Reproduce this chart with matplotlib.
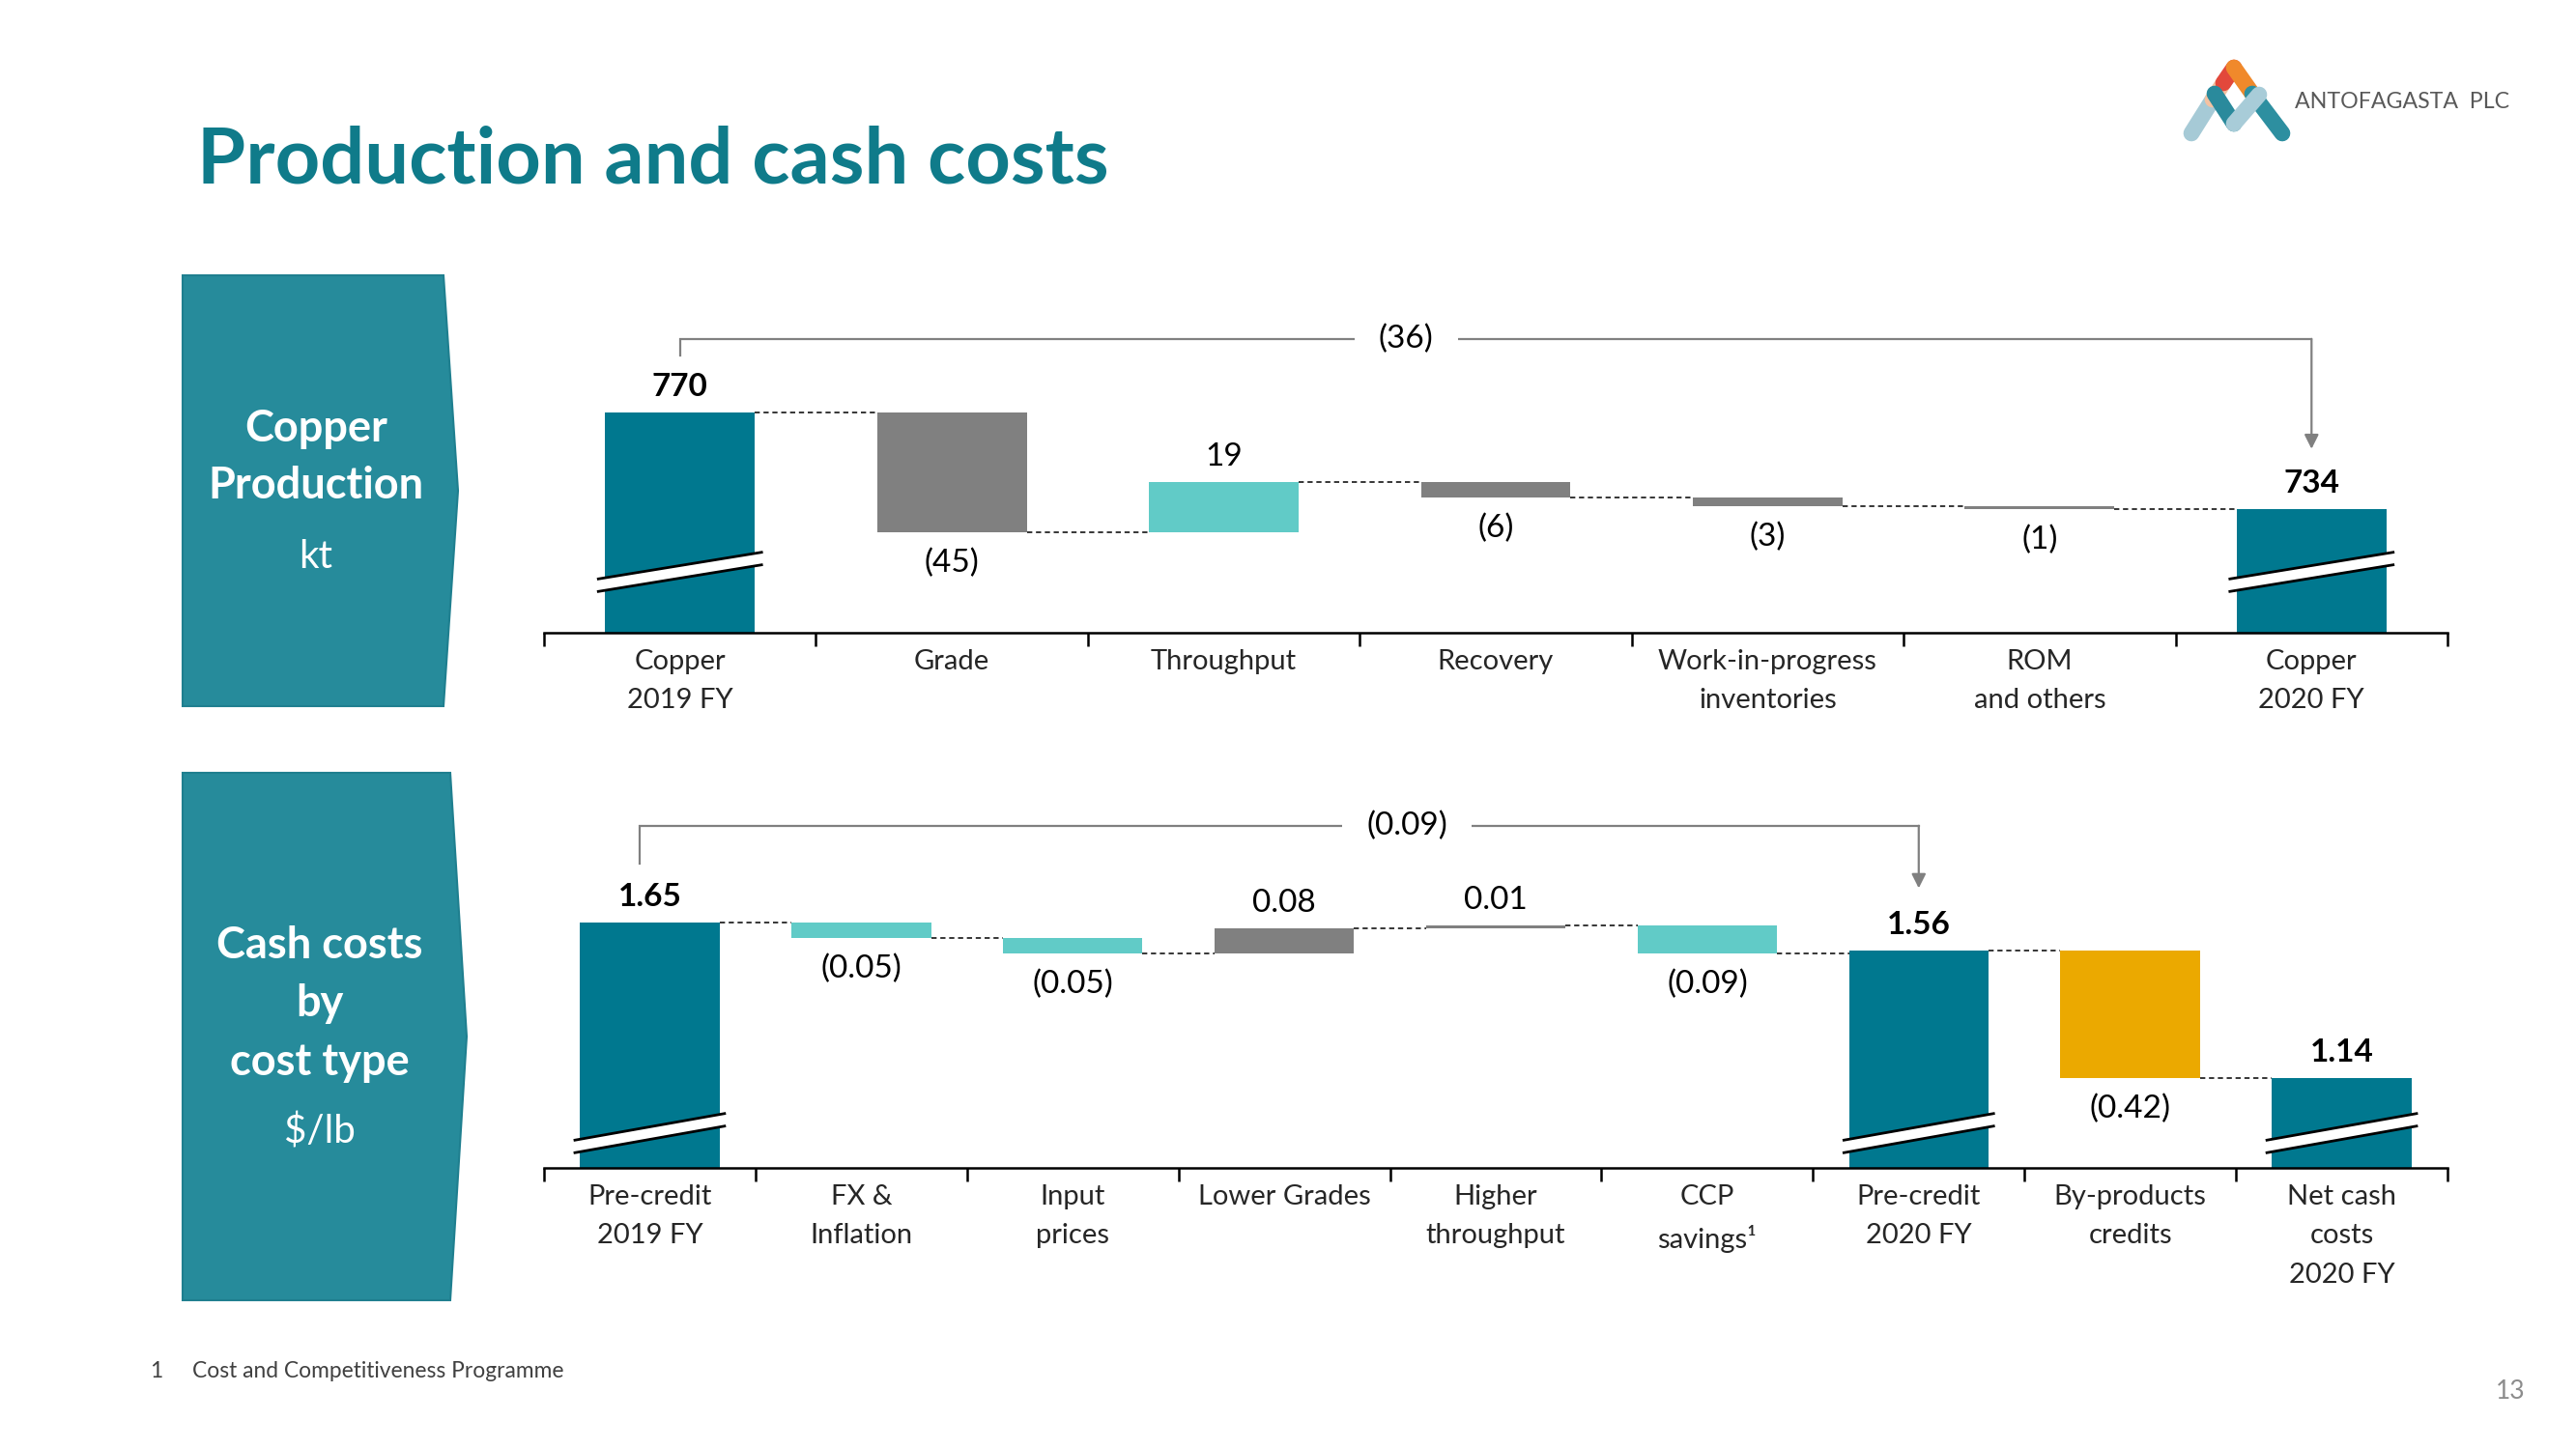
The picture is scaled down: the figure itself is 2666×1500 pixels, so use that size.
import matplotlib
matplotlib.use("Agg")
import matplotlib.pyplot as plt
from matplotlib.patches import Polygon

plt.rcParams["font.family"] = ["Lato", "DejaVu Sans"]

# ---- data -------------------------------------------------------------
prod_categories = ["Copper\n2019 FY", "Grade", "Throughput", "Recovery",
                   "Work-in-progress\ninventories", "ROM\nand others", "Copper\n2020 FY"]
prod_values = [770, -45, 19, -6, -3, -1, 734]
prod_kinds = ["total", "delta", "delta", "delta", "delta", "delta", "total"]
prod_change = -36

cost_categories = ["Pre-credit\n2019 FY", "FX &\nInflation", "Input\nprices", "Lower Grades",
                   "Higher\nthroughput", "CCP\nsavings\u00b9", "Pre-credit\n2020 FY",
                   "By-products\ncredits", "Net cash\ncosts\n2020 FY"]
cost_values = [1.65, -0.05, -0.05, 0.08, 0.01, -0.09, 1.56, -0.42, 1.14]
cost_kinds = ["total", "delta", "delta", "delta", "delta", "delta", "total", "delta", "total"]
cost_change = -0.09

# ---- styles -----------------------------------------------------------
W, H = 2666, 1500
TEAL = "#00788F"
GRAY = "#808080"
LIGHT = "#61CBC7"
GOLD = "#EBA900"
PANEL = "#268B9B"
TITLE = "#0F7B8A"

prod_colors = [TEAL, GRAY, LIGHT, GRAY, GRAY, GRAY, TEAL]
cost_colors = [TEAL, LIGHT, LIGHT, GRAY, GRAY, LIGHT, TEAL, GOLD, TEAL]


def fmt_int(v):
    return f"({abs(v):.0f})" if v < 0 else f"{v:.0f}"


def fmt_dec(v):
    return f"({abs(v):.2f})" if v < 0 else f"{v:.2f}"


def px_axes(left, top, right, bottom):
    return fig.add_axes([left / W, 1 - bottom / H, (right - left) / W, (bottom - top) / H])


def waterfall(ax, values, kinds, colors, labels, fmt, width, base, top, ax_h_px,
              break_px, bracket):
    n = len(values)
    upp = (top - base) / ax_h_px  # data units per pixel
    ax.set_xlim(-0.5, n - 0.5)
    ax.set_ylim(base, top)
    level = None
    for i, (v, k, c) in enumerate(zip(values, kinds, colors)):
        if k == "total":
            bottom, height, end = base, v - base, v
        else:
            bottom, height, end = min(level, level + v), abs(v), level + v
        ax.bar(i, height, bottom=bottom, width=width, color=c, zorder=2)
        if level is not None:
            ax.plot([i - 1 + width / 2, i - width / 2], [level, level], color="black",
                    lw=1.1, ls=(0, (3.5, 2.5)), zorder=1)
        if k == "total":
            ax.annotate(fmt(v), (i, v), xytext=(0, 19), textcoords="offset points",
                        ha="center", va="center", fontsize=24, fontweight="bold", color="black")
            # broken-axis mark
            yc = base + break_px * upp
            half_t = 6.5 * upp
            rise = 14 * upp
            x0, x1 = i - width / 2 - 0.03, i + width / 2 + 0.03
            poly = Polygon([(x0, yc - rise - half_t), (x1, yc + rise - half_t),
                            (x1, yc + rise + half_t), (x0, yc - rise + half_t)],
                           closed=True, fc="white", ec="none", zorder=3)
            ax.add_patch(poly)
            for s in (-1, 1):
                ax.plot([x0, x1], [yc - rise + s * half_t, yc + rise + s * half_t],
                        color="black", lw=2.0, zorder=4, solid_capstyle="butt")
        else:
            off = -23 if v < 0 else 19
            ax.annotate(fmt(v), (i, level + v), xytext=(0, off), textcoords="offset points",
                        ha="center", va="center", fontsize=24, color="black")
        level = end

    # overall-change bracket
    i0, i1, y_br, y_start, y_tip, x_lab, text = bracket
    ax.plot([i0, i0, i1], [y_start, y_br, y_br], color=GRAY, lw=1.6, zorder=2,
            solid_joinstyle="miter")
    ax.annotate("", xy=(i1, y_tip), xytext=(i1, y_br),
                arrowprops=dict(arrowstyle="-|>", color=GRAY, lw=1.6, mutation_scale=22,
                                shrinkA=0, shrinkB=0))
    ax.text(x_lab, y_br, text, ha="center", va="center", fontsize=24, color="black",
            bbox=dict(boxstyle="square,pad=0.75", fc="white", ec="none"), zorder=5)

    # axis styling
    for sp in ("top", "right", "left"):
        ax.spines[sp].set_visible(False)
    ax.spines["bottom"].set_linewidth(1.8)
    ax.set_yticks([])
    ax.set_xticks(range(n))
    ax.set_xticklabels(labels, fontsize=21, color="#262626", linespacing=1.7)
    ax.tick_params(axis="x", which="major", length=0, pad=12)
    ax.set_xticks([i - 0.5 for i in range(n + 1)], minor=True)
    ax.tick_params(axis="x", which="minor", length=10, width=1.8, direction="out")
    ax.patch.set_visible(False)


fig = plt.figure(figsize=(W / 100, H / 100), dpi=100)

# background overlay in pixel coordinates
bg = fig.add_axes([0, 0, 1, 1])
bg.set_xlim(0, W)
bg.set_ylim(H, 0)
bg.axis("off")

bg.text(204, 190, "Production and cash costs", fontsize=58.5, fontweight="bold",
        color=TITLE, ha="left", va="baseline")

# side panels
for pts in ([(189, 285), (459, 285), (474, 508), (459, 731), (189, 731)],
            [(189, 800), (466, 800), (483, 1073), (466, 1346), (189, 1346)]):
    bg.add_patch(Polygon(pts, closed=True, fc=PANEL, ec="#1F7F8F", lw=1.5))

for txt, y, bold in (("Copper", 444, True), ("Production", 503, True), ("kt", 576, False)):
    bg.text(327, y, txt, fontsize=32.5 if bold else 29, color="white", ha="center",
            va="center", fontweight="bold" if bold else "normal")
for txt, y, bold in (("Cash costs", 979, True), ("by", 1039, True), ("cost type", 1100, True),
                     ("$/lb", 1171, False)):
    bg.text(331, y, txt, fontsize=32.5 if bold else 29, color="white", ha="center",
            va="center", fontweight="bold" if bold else "normal")

# logo
logo = [((2268, 138), (2290, 103), "#A6CAD6"),
        ((2290, 103), (2301, 86), "#F4C2A2"),
        ((2301, 86), (2312, 70), "#E2483B"),
        ((2312, 70), (2331, 97), "#F0892B"),
        ((2331, 97), (2362, 138), "#2D8FA0"),
        ((2292, 97), (2312, 128), "#2A8A9C"),
        ((2312, 128), (2338, 98), "#A8CCD8")]
for (xa, ya), (xb, yb), c in logo:
    bg.plot([xa, xb], [ya, yb], color=c, lw=12, solid_capstyle="round")
bg.text(2375, 106, "ANTOFAGASTA  PLC", fontsize=16.7, color="#595959", ha="left", va="center")

bg.text(155, 1420, "1", fontsize=16.4, color="#404040", ha="left", va="center")
bg.text(199, 1420, "Cost and Competitiveness Programme", fontsize=16.4, color="#404040",
        ha="left", va="center")
bg.text(2614, 1440, "13", fontsize=19, color="#8C8C8C", ha="right", va="center")

# ---- production waterfall ---------------------------------------------
ax1 = px_axes(563, 323, 2533, 655)
waterfall(ax1, prod_values, prod_kinds, prod_colors, prod_categories, fmt_int,
          width=0.55, base=687.4, top=807.8, ax_h_px=332, break_px=63,
          bracket=(0, 6, 797.7, 791.6, 756.4, 2.67, fmt_int(prod_change)))

# ---- cash cost waterfall ----------------------------------------------
ax2 = px_axes(563, 833, 2533, 1209)
waterfall(ax2, cost_values, cost_kinds, cost_colors, cost_categories, fmt_dec,
          width=0.66, base=0.846, top=2.037, ax_h_px=376, break_px=36,
          bracket=(-0.05, 6, 1.968, 1.844, 1.763, 3.58, fmt_dec(cost_change)))

fig.savefig("out.png", dpi=100, facecolor="white")
